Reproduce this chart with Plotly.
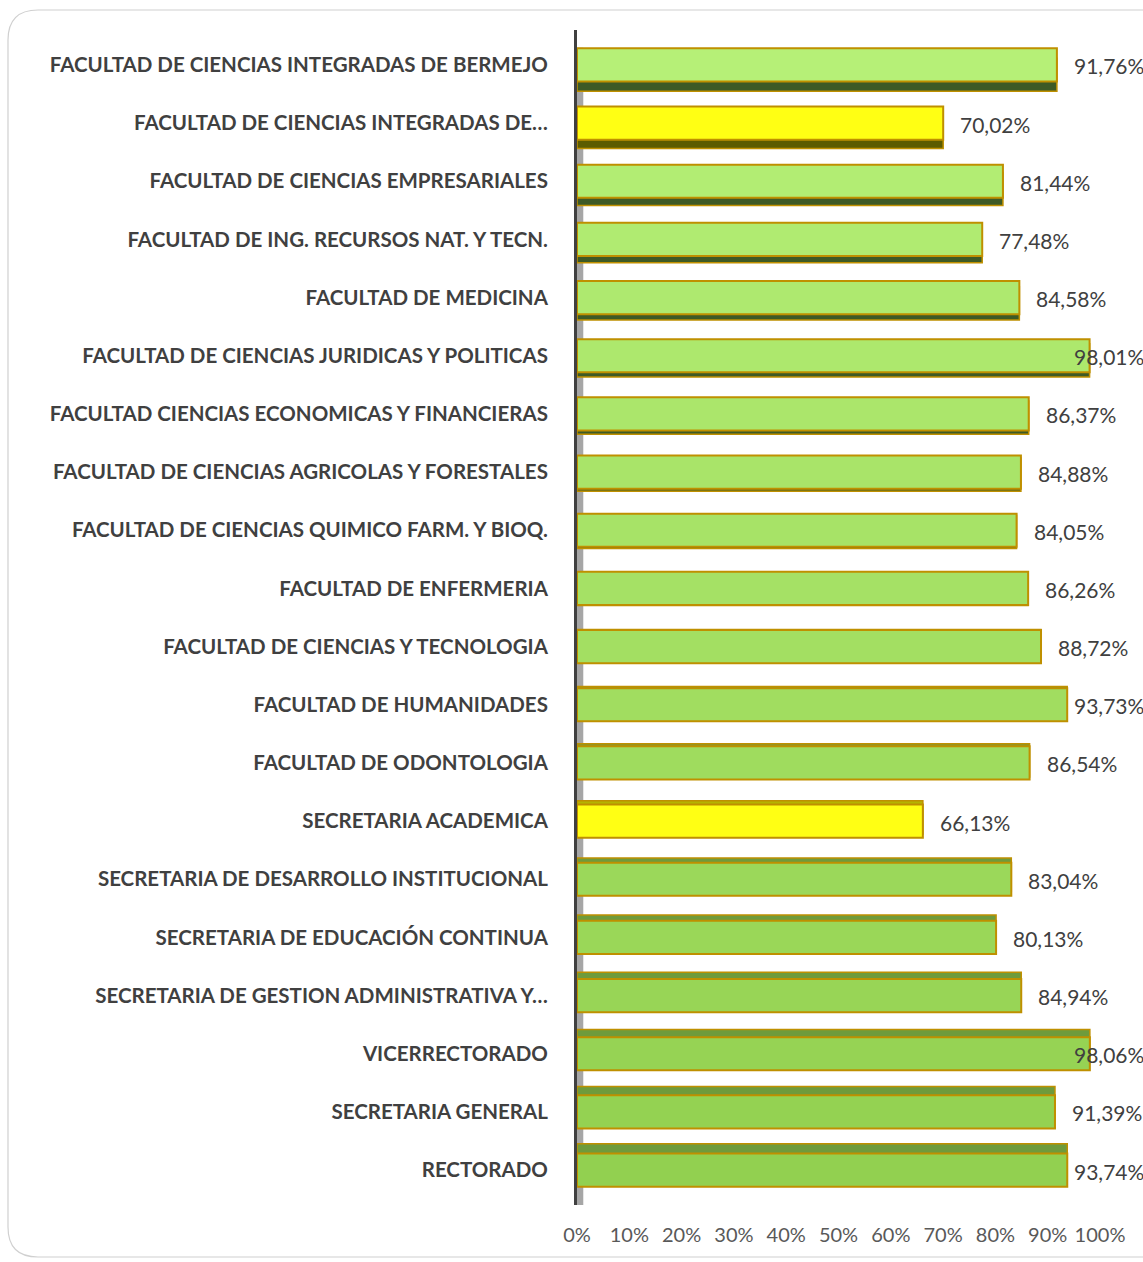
import plotly.graph_objects as go
import numpy as np

categories = [
    "FACULTAD DE CIENCIAS INTEGRADAS DE BERMEJO",
    "FACULTAD DE CIENCIAS INTEGRADAS DE…",
    "FACULTAD DE CIENCIAS EMPRESARIALES",
    "FACULTAD DE ING. RECURSOS NAT. Y TECN.",
    "FACULTAD DE MEDICINA",
    "FACULTAD DE CIENCIAS JURIDICAS Y POLITICAS",
    "FACULTAD CIENCIAS ECONOMICAS Y FINANCIERAS",
    "FACULTAD DE CIENCIAS AGRICOLAS Y FORESTALES",
    "FACULTAD DE CIENCIAS QUIMICO FARM. Y BIOQ.",
    "FACULTAD DE ENFERMERIA",
    "FACULTAD DE CIENCIAS Y TECNOLOGIA",
    "FACULTAD DE HUMANIDADES",
    "FACULTAD DE ODONTOLOGIA",
    "SECRETARIA ACADEMICA",
    "SECRETARIA DE DESARROLLO INSTITUCIONAL",
    "SECRETARIA DE EDUCACIÓN CONTINUA",
    "SECRETARIA DE GESTION ADMINISTRATIVA Y…",
    "VICERRECTORADO",
    "SECRETARIA GENERAL",
    "RECTORADO",
]
values = [91.76, 70.02, 81.44, 77.48, 84.58, 98.01, 86.37, 84.88, 84.05, 86.26,
          88.72, 93.73, 86.54, 66.13, 83.04, 80.13, 84.94, 98.06, 91.39, 93.74]
x_ticks = [0, 10, 20, 30, 40, 50, 60, 70, 80, 90, 100]
x_tick_labels = ["0%", "10%", "20%", "30%", "40%", "50%", "60%", "70%", "80%", "90%", "100%"]

n = len(categories)
W = 0.57


def lerp_color(c1, c2, t):
    a = np.array([int(c1[i:i + 2], 16) for i in (1, 3, 5)])
    b = np.array([int(c2[i:i + 2], 16) for i in (1, 3, 5)])
    c = (a + (b - a) * t).round().astype(int)
    return "#%02X%02X%02X" % tuple(c)


face_colors, depth_colors, offsets = [], [], []
for i, v in enumerate(values):
    t = i / (n - 1)
    d = 0.17 * (1 - 2 * t)
    offsets.append(-W / 2 + d)
    if v < 75:
        face_colors.append("#FFFF14")
        depth_colors.append("#5C5C00" if d > 0 else "#B5B500")
    else:
        face_colors.append(lerp_color("#B6F077", "#92D050", t))
        depth_colors.append("#3D5A26" if d > 0 else "#6E9B3C")

fig = go.Figure()
fig.add_trace(go.Bar(
    y=categories, x=values, orientation="h", width=W, offset=offsets,
    marker=dict(color=depth_colors, line=dict(color="#BF9000", width=1.5)),
    hoverinfo="skip", showlegend=False,
))
fig.add_trace(go.Bar(
    y=categories, x=values, orientation="h", width=W, offset=-W / 2,
    marker=dict(color=face_colors, line=dict(color="#BF9000", width=2)),
    showlegend=False,
))

annotations = []
for c, v in zip(categories, values):
    annotations.append(dict(
        x=min(v, 91.8), y=c, xref="x", yref="y", xanchor="left", yanchor="middle",
        xshift=15, yshift=-1, showarrow=False,
        text=f"{v:.2f}".replace(".", ",") + "%",
        font=dict(family="Lato", size=21, color="#404040"),
    ))

# chart-area border (rounded), in paper coords
L0, T0, R0, B0 = 577, 30, 1100, 1205


def px(xp):
    return (xp - L0) / (R0 - L0)


def py(yp):
    return (B0 - yp) / (B0 - T0)


bl, bt, br, bb, r = 8, 10, 1170, 1257, 30
path = (f"M {px(bl)},{py(bt + r)} Q {px(bl)},{py(bt)} {px(bl + r)},{py(bt)} "
        f"L {px(br)},{py(bt)} L {px(br)},{py(bb)} L {px(bl + r)},{py(bb)} "
        f"Q {px(bl)},{py(bb)} {px(bl)},{py(bb - r)} Z")

shapes = [
    dict(type="path", xref="paper", yref="paper", path=path,
         line=dict(color="#D0D0D0", width=1.2), fillcolor="rgba(0,0,0,0)", layer="below"),
    dict(type="rect", xref="x", yref="paper", x0=0, x1=1.2, y0=0, y1=0.985,
         fillcolor="#A6A6A6", line=dict(width=0), layer="below"),
]

fig.update_layout(
    width=1143, height=1262,
    margin=dict(l=L0, r=1143 - R0, t=T0, b=1262 - B0),
    paper_bgcolor="white", plot_bgcolor="white",
    barmode="overlay",
    annotations=annotations,
    shapes=shapes,
    xaxis=dict(range=[0, 100], tickvals=x_ticks, ticktext=x_tick_labels,
               showgrid=False, zeroline=False, showline=False,
               ticks="outside", ticklen=0, ticklabelstandoff=12,
               tickfont=dict(family="Lato", size=20, color="#595959")),
    yaxis=dict(categoryorder="array", categoryarray=categories,
               range=[n - 1 + 0.6, -0.6], showgrid=False, zeroline=False,
               showline=True, linecolor="#404040", linewidth=3,
               ticks="outside", ticklen=0, ticklabelstandoff=22,
               tickfont=dict(family="Lato", size=20.5, color="#404040", weight="bold")),
)

fig.write_html("out.html", config={"displayModeBar": False},
               post_script="document.body.style.margin='0';")
